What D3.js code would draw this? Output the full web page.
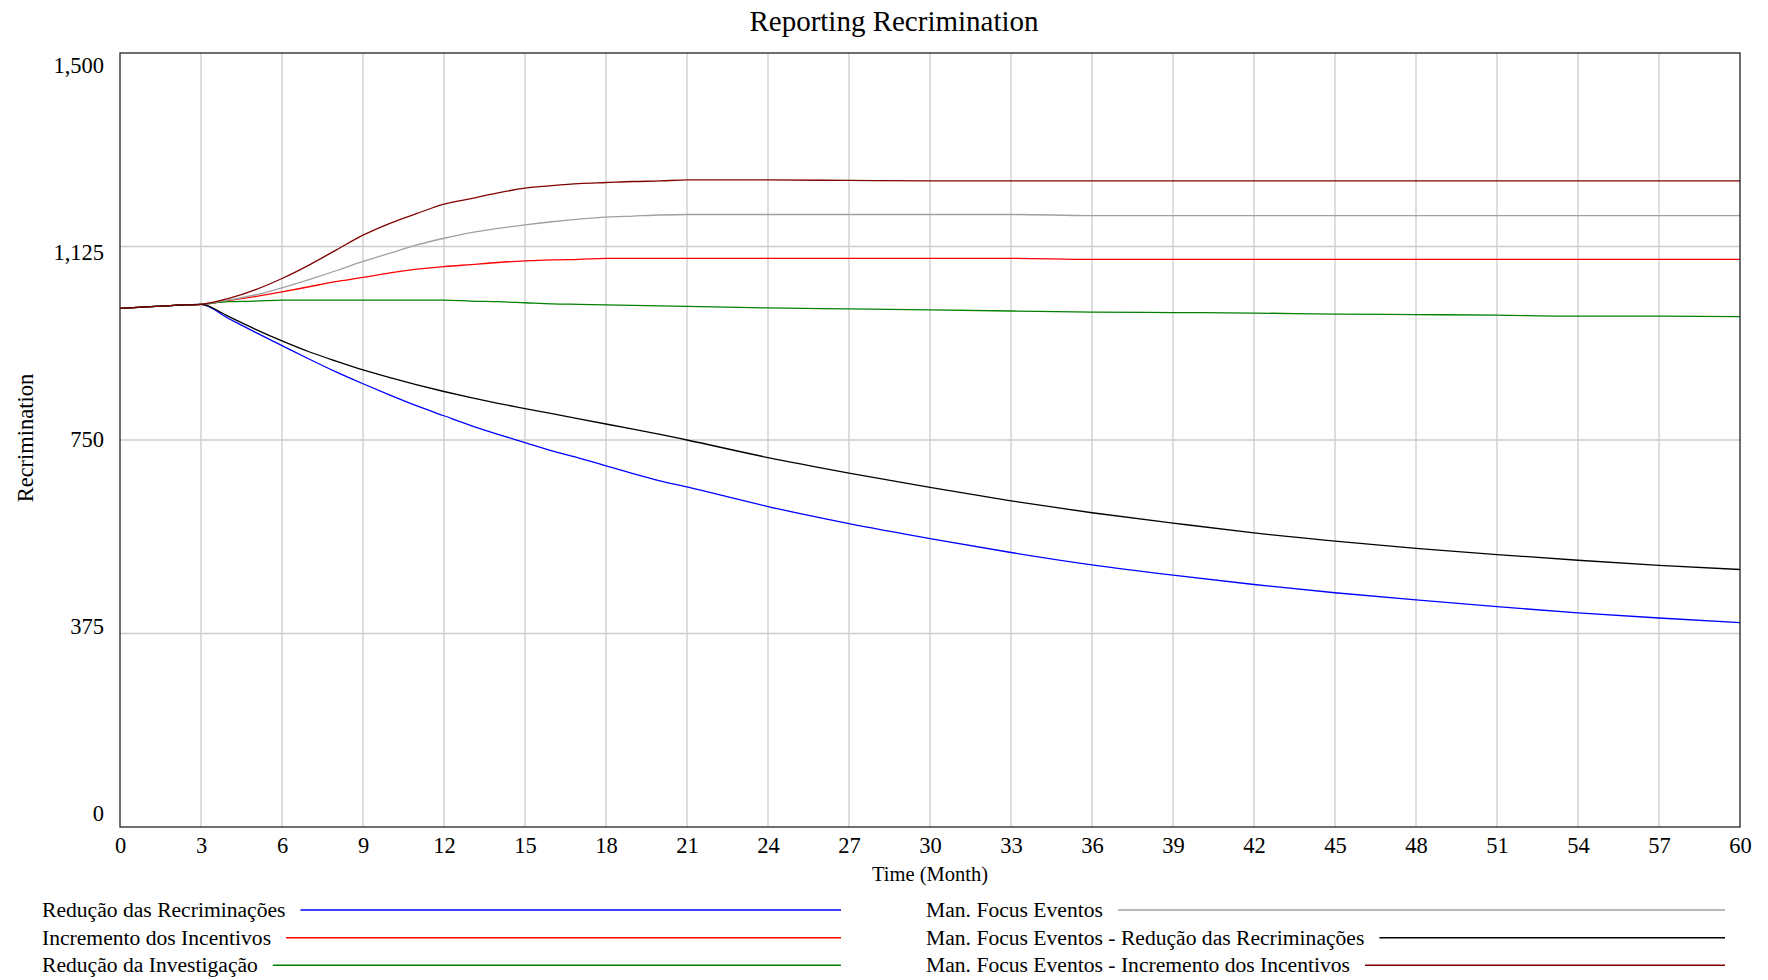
<!DOCTYPE html>
<html>
<head>
<meta charset="utf-8">
<script src="https://cdn.jsdelivr.net/npm/d3@7"></script>
<style>
  html, body { margin: 0; padding: 0; background: #fff; }
  svg { display: block; }
  text { font-family: "Liberation Serif", "Times New Roman", serif; fill: #000; }
</style>
</head>
<body>
<svg id="chart" width="1768" height="980"></svg>
<script>
// ---- Data ----
const months = [0,1,2,3,4,5,6,7,8,9,10,11,12,13,14,15,16,17,18,19,20,21,24,27,30,33,36,39,42,45,48,51,54,57,60];

const reducaoRecriminacoes = [1005,1008,1011,1013,986,959,933,907,882,859,837,816,797,778,761,745,729,715,700,685,671,659,621,588,559,532,508,488,470,454,440,427,415,405,396];
const incrementoIncentivos = [1005,1008,1011,1013,1020,1028,1037,1047,1057,1065,1074,1081,1086,1090,1094,1097,1099,1100,1102,1102,1102,1102,1102,1102,1102,1102,1100,1100,1100,1100,1100,1100,1100,1100,1100];
const reducaoInvestigacao = [1005,1008,1011,1013,1018,1019,1021,1021,1021,1021,1021,1021,1021,1019,1018,1016,1014,1013,1012,1011,1010,1009,1006,1004,1002,1000,998,997,996,994,993,992,990,990,989];
const manFocusEventos = [1005,1008,1011,1013,1021,1031,1045,1061,1078,1096,1112,1128,1141,1152,1160,1167,1173,1178,1182,1184,1186,1187,1187,1187,1187,1187,1185,1185,1185,1185,1185,1185,1185,1185,1185];
const manFocusReducao = [1005,1008,1011,1013,990,965,942,921,903,886,871,857,844,832,821,811,801,791,781,771,761,750,716,686,658,632,609,589,570,554,540,528,517,507,499];
const manFocusIncremento = [1005,1008,1011,1013,1024,1041,1063,1089,1118,1147,1170,1189,1207,1218,1229,1238,1243,1247,1249,1251,1252,1254,1254,1253,1252,1252,1252,1252,1252,1252,1252,1252,1252,1252,1252];

const seriesNames = [
  "Redução das Recriminações",
  "Incremento dos Incentivos",
  "Redução da Investigação",
  "Man. Focus Eventos",
  "Man. Focus Eventos - Redução das Recriminações",
  "Man. Focus Eventos - Incremento dos Incentivos"
];
const seriesValues = [reducaoRecriminacoes, incrementoIncentivos, reducaoInvestigacao, manFocusEventos, manFocusReducao, manFocusIncremento];
const seriesColors = ["#0000ff", "#ff0000", "#008000", "#a0a0a0", "#000000", "#800000"];

const xTicks = d3.range(0, 61, 3);
const yTicks = [0, 375, 750, 1125, 1500];

const titleText = "Reporting Recrimination";
const xTitle = "Time (Month)";
const yTitle = "Recrimination";

// ---- Layout ----
const svg = d3.select("#chart");
const m = { left: 120, top: 53, right: 1740, bottom: 827 };
const x = d3.scaleLinear().domain([0, 60]).range([m.left, m.right]);
const y = d3.scaleLinear().domain([0, 1500]).range([m.bottom, m.top]);

// grid
const grid = svg.append("g");
grid.selectAll("line.v").data(xTicks.filter(d => d > 0 && d < 60)).enter().append("line")
  .attr("x1", d => x(d)).attr("x2", d => x(d))
  .attr("y1", m.top).attr("y2", m.bottom)
  .attr("stroke", "#cccccc").attr("stroke-width", 1.3);
grid.selectAll("line.h").data(yTicks.filter(d => d > 0 && d < 1500)).enter().append("line")
  .attr("x1", m.left).attr("x2", m.right)
  .attr("y1", d => y(d)).attr("y2", d => y(d))
  .attr("stroke", "#cccccc").attr("stroke-width", 1.3);

// lines
const line = d3.line().x(d => x(d[0])).y(d => y(d[1])).curve(d3.curveMonotoneX);
seriesValues.forEach((vals, i) => {
  svg.append("path")
    .datum(months.map((t, k) => [t, vals[k]]))
    .attr("fill", "none")
    .attr("stroke", seriesColors[i])
    .attr("stroke-width", 1.3)
    .attr("d", line);
});

// frame
svg.append("rect")
  .attr("x", m.left).attr("y", m.top)
  .attr("width", m.right - m.left).attr("height", m.bottom - m.top)
  .attr("fill", "none").attr("stroke", "#222").attr("stroke-width", 1.3);

// axes
const serif = '"Liberation Serif", "Times New Roman", serif';
const xAxis = svg.append("g").attr("transform", `translate(0,${m.bottom})`)
  .call(d3.axisBottom(x).tickValues(xTicks).tickSize(0).tickFormat(d3.format("d")));
xAxis.attr("font-family", serif).attr("font-size", 22);
xAxis.select(".domain").remove();
xAxis.selectAll("text").attr("dy", null).attr("y", 26)
  .style("font-family", serif).style("font-size", "22.5px").attr("fill", "#000");

const yAxis = svg.append("g").attr("transform", `translate(${m.left},0)`)
  .call(d3.axisLeft(y).tickValues(yTicks).tickSize(0).tickFormat(d3.format(",")));
yAxis.attr("font-family", serif).attr("font-size", 22);
yAxis.select(".domain").remove();
const labelOffset = d3.scaleLinear().domain([0, 1500]).range([-6.5, 19]);
yAxis.selectAll("text").attr("dy", null).attr("x", -16).attr("y", d => labelOffset(d))
  .style("font-family", serif).style("font-size", "22.5px").attr("fill", "#000");

// titles
svg.append("text").attr("x", 894).attr("y", 31).attr("text-anchor", "middle")
  .style("font-size", "29px").text(titleText);
svg.append("text").attr("x", 930).attr("y", 881).attr("text-anchor", "middle")
  .style("font-size", "20.5px").text(xTitle);
svg.append("text").attr("transform", "translate(33,438) rotate(-90)").attr("text-anchor", "middle")
  .style("font-size", "22.5px").text(yTitle);

// legend
const legendCols = [{ tx: 42, end: 841 }, { tx: 926, end: 1725 }];
const legendRows = [910, 937.7, 965.3];
seriesNames.forEach((name, i) => {
  const col = legendCols[Math.floor(i / 3)];
  const ly = legendRows[i % 3];
  const t = svg.append("text").attr("x", col.tx).attr("y", ly + 7)
    .style("font-size", "21.6px").text(name);
  const w = t.node().getComputedTextLength();
  svg.append("line")
    .attr("x1", col.tx + w + 15).attr("x2", col.end)
    .attr("y1", ly).attr("y2", ly)
    .attr("stroke", seriesColors[i]).attr("stroke-width", 1.6);
});
</script>
</body>
</html>
